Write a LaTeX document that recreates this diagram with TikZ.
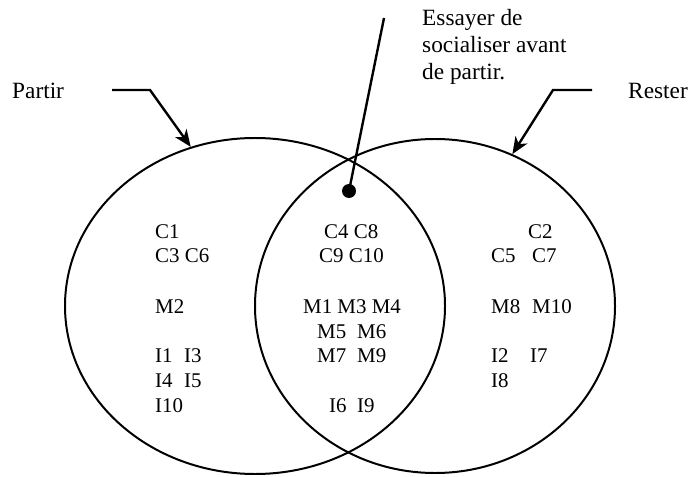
\documentclass[tikz,border=0pt]{standalone}
\usepackage{fontspec}
\setmainfont{Liberation Serif}
\usetikzlibrary{shapes.geometric,arrows.meta}
\tikzset{
  lbl/.style={font=\fontsize{23.4}{27}\selectfont, inner sep=0pt, anchor=base west},
  itm/.style={font=\fontsize{21}{24}\selectfont, inner sep=0pt, anchor=base west},
  setshape/.style={ellipse, draw, line width=2pt, inner sep=0pt},
  ptr/.style={line width=2.4pt, -{Stealth[length=17pt, width=14pt, inset=5pt]}},
  dotnode/.style={circle, fill=black, inner sep=0pt, minimum size=14bp},
}
\begin{document}
\begin{tikzpicture}[x=1bp,y=-1bp]
\useasboundingbox (0,0) rectangle (689,477);
% sets
\node[setshape, minimum width=380bp, minimum height=336bp] (partir) at (255,306) {};
\node[setshape, minimum width=360bp, minimum height=334bp] (rester) at (435,306) {};
% labels
\node[lbl] (lpartir) at (12,99) {Partir};
\node[lbl] (lrester) at (628,99) {Rester};
\node[lbl] (es1) at (422,26) {Essayer de};
\node[lbl] (es2) at (422,53) {socialiser avant};
\node[lbl] (es3) at (422,80) {de partir.};
% pointers
\coordinate (pa0) at (112,90);
\coordinate (pa1) at (150,90);
\draw[ptr] (pa0) -- (pa1) -- (partir.112);
\coordinate (re0) at (592,90);
\coordinate (re1) at (553,90);
\draw[ptr] (re0) -- (re1) -- (rester.63);
\node[dotnode] (dot) at (349,191) {};
\coordinate (es0) at (384,18);
\draw[line width=2.4pt] (es0) -- (dot.center);
% left only
\node[itm] (c1) at (155,239) {C1};
\node[itm] (c3c6) at (155,263) {C3 C6};
\node[itm] (m2) at (155,313) {M2};
\node[itm] (i1) at (155,362) {I1};
\node[itm] (i3) at (184,362) {I3};
\node[itm] (i4) at (155,387) {I4};
\node[itm] (i5) at (184,387) {I5};
\node[itm] (i10) at (155,412) {I10};
% both
\node[itm] (c4c8) at (324,239) {C4 C8};
\node[itm] (c9c10) at (319,263) {C9 C10};
\node[itm] (m134) at (303,313) {M1 M3 M4};
\node[itm] (m5) at (317,338) {M5};
\node[itm] (m6) at (357,338) {M6};
\node[itm] (m7) at (317,362) {M7};
\node[itm] (m9) at (357,362) {M9};
\node[itm] (i6) at (329,412) {I6};
\node[itm] (i9) at (357,412) {I9};
% right only
\node[itm] (c2) at (528,239) {C2};
\node[itm] (c5) at (491,263) {C5};
\node[itm] (c7) at (532,263) {C7};
\node[itm] (m8) at (491,313) {M8};
\node[itm] (m10) at (532,313) {M10};
\node[itm] (i2) at (491,362) {I2};
\node[itm] (i7) at (530,362) {I7};
\node[itm] (i8) at (491,387) {I8};
\end{tikzpicture}
\end{document}
